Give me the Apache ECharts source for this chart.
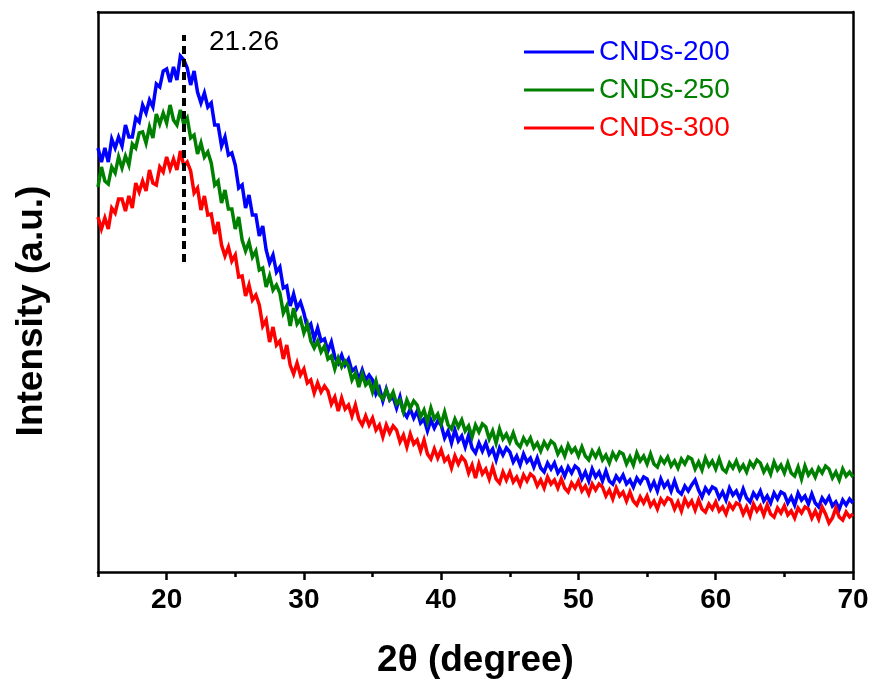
<!DOCTYPE html>
<html>
<head>
<meta charset="utf-8">
<script src="https://cdn.jsdelivr.net/npm/echarts@6/dist/echarts.min.js"></script>
<style>
html,body{margin:0;padding:0;background:#fff;}
#xrd{width:874px;height:683px;}
</style>
</head>
<body>
<div id="xrd"></div>
<script type="text/javascript">
// 2theta sampling: every 0.25 degree from 15 to 70
var thetaStart = 15, thetaStep = 0.25;

var seriesNames = ['CNDs-200', 'CNDs-250', 'CNDs-300'];
var seriesColors = ['#0000ff', '#008000', '#ff0000'];

// intensity (a.u.), one row = one degree (4 points)
var cnds200 = [
 424,410,424,410, 433,424,435,426, 447,435,435,454, 450,467,459,472, 465,488,485,501,
 503,490,505,492, 516,512,504,487, 501,480,469,479, 465,469,447,447, 426,435,417,419,
 407,384,387,364, 377,357,357,336, 346,322,309,317, 300,305,284,286, 266,278,264,270,
 259,244,248,233, 244,231,233,221, 230,215,209,217, 207,213,201,204, 192,202,192,197,
 192,178,184,171, 183,172,175,164, 175,160,155,163, 154,161,149,153, 141,152,144,151,
 147,134,141,129, 142,131,136,125, 137,124,119,129, 121,129,118,123, 112,124,117,124,
 120,110,116,107, 118,110,114,105, 114,104,100,109, 103,109,99,104, 96,105,99,106,
 103,93,100,91, 103,95,100,91, 101,91,88,96, 91,97,88,92, 85,94,89,95,
 93,83,90,81, 93,85,90,81, 91,81,78,86, 81,87,92,82, 75,84,79,85,
 83,74,80,72, 84,77,81,73, 83,74,70,79, 74,81,71,76, 69,79,73,80,
 78,69,75,67, 79,72,76,68, 78,69,65,74, 69,75,66,70, 63,72,67,73,
 69
];
var cnds250 = [
 385,405,391,388, 405,399,415,404, 416,407,428,424, 439,440,429,445, 434,458,448,459,
 449,467,452,447, 462,448,454,434, 437,418,429,415, 420,409,387,391, 369,382,363,363,
 343,355,332,321, 330,315,321,302, 304,285,296,282, 287,279,259,266, 246,264,248,253,
 239,248,231,224, 231,220,226,213, 216,203,214,205, 211,206,192,199, 185,198,187,191,
 180,191,177,173, 182,173,180,168, 172,160,172,164, 171,167,155,162, 150,164,153,158,
 148,160,147,143, 153,145,152,141, 146,135,147,140, 148,145,133,141, 129,143,133,138,
 130,139,129,125, 134,128,134,124, 129,121,130,124, 131,128,118,124, 116,127,120,124,
 116,125,116,112, 121,115,122,112, 117,109,119,113, 120,118,108,115, 107,119,111,116,
 108,118,108,105, 114,109,115,106, 111,104,113,108, 115,113,103,110, 102,114,106,111,
 103,113,103,100, 109,104,111,102, 107,100,110,105, 112,109,100,106, 98,110,102,107,
 99,109,99,96, 105,93,106,97, 102,95,104,99, 106,103,94,100, 92,103,96,100,
 95
];
var cnds300 = [
 355,343,354,343, 364,359,373,373, 361,376,364,389, 380,391,381,402, 389,387,405,400,
 415,403,413,402, 421,406,410,401, 379,384,362,376, 357,358,338,350, 327,316,325,311,
 317,295,296,276, 287,272,277,267, 246,252,230,245, 227,231,213,227, 207,198,209,197,
 203,189,192,179, 189,180,186,181, 168,175,161,174, 163,167,156,167, 153,147,156,147,
 154,142,147,135, 147,139,146,142, 130,137,125,138, 128,132,121,132, 118,113,123,114,
 122,111,115,104, 116,108,115,111, 99,107,94,108, 98,103,93,105, 93,89,100,92,
 100,90,95,87, 97,91,98,95, 86,92,84,95, 88,92,84,93, 84,80,89,84,
 91,81,86,78, 88,82,88,85, 76,82,73,84, 76,80,71,80, 71,67,75,69,
 76,66,71,63, 73,68,74,72, 63,70,61,73, 66,71,62,72, 63,60,68,63,
 70,61,65,58, 68,63,69,67, 58,65,56,68, 61,66,57,67, 58,55,64,59,
 66,57,61,54, 64,59,65,63, 54,61,53,65, 58,49,54,64, 55,52,60,55,
 58
];

var majorTicks = [20, 30, 40, 50, 60, 70];
var minorTicks = [15, 25, 35, 45, 55, 65];
var peakPos = 21.26;
var peakLine = [310, 537];   // extent of dashed marker (a.u.)
var peakLabelAt = 530;

function toPairs(vals){
	var out = [];
	for (var i = 0; i < vals.length; i++) {
		out.push([thetaStart + i * thetaStep, vals[i]]);
	}
	return out;
}

var myChart = echarts.init(document.getElementById('xrd'), null, {renderer: 'canvas'});
var frame = {show: true, lineStyle: {color: '#000', width: 2.5}};
var font = 'Liberation Sans, Arial, sans-serif';

var seriesData = [cnds200, cnds250, cnds300];
var series = [];
for (var k = 0; k < seriesData.length; k++) {
	series.push({
		name: seriesNames[k],
		type: 'line',
		showSymbol: false,
		symbol: 'none',
		data: toPairs(seriesData[k]),
		lineStyle: {color: seriesColors[k], width: 3.5, join: 'miter', miterLimit: 4},
		itemStyle: {color: seriesColors[k]},
		z: 2 + k
	});
}
// dashed peak marker + label
series[0].markLine = {
	silent: true,
	symbol: 'none',
	label: {show: false},
	lineStyle: {color: '#000', type: [8, 5], width: 4},
	data: [[{coord: [peakPos, peakLine[0]]}, {coord: [peakPos, peakLine[1]]}]]
};
series[0].markPoint = {
	silent: true,
	symbol: 'circle',
	symbolSize: 0,
	data: [{coord: [peakPos, peakLabelAt]}],
	label: {
		show: true, position: 'right', distance: 25,
		formatter: String(peakPos),
		color: '#000', fontSize: 28, fontFamily: font
	}
};

var option = {
	backgroundColor: '#fff',
	animation: false,
	grid: {left: 98, right: 21, top: 12, bottom: 111, outerBoundsMode: 'none', containLabel: false},
	legend: {
		orient: 'vertical',
		left: 519,
		top: 33,
		itemWidth: 70,
		itemHeight: 3,
		itemGap: 10,
		icon: 'rect',
		textStyle: {fontSize: 28, fontFamily: font},
		data: seriesNames.map(function(n, i){
			return {name: n, itemStyle: {color: seriesColors[i]}, textStyle: {color: seriesColors[i]}};
		})
	},
	xAxis: [
		{
			type: 'value', min: 15, max: 70, interval: 5,
			name: '2θ (degree)', nameLocation: 'middle', nameGap: 70,
			nameTextStyle: {fontSize: 37, fontWeight: 'bold', color: '#000', fontFamily: font},
			axisLine: frame,
			axisTick: {show: true, inside: false, length: 8, customValues: majorTicks, lineStyle: {color: '#000', width: 2.5}},
			axisLabel: {show: true, customValues: majorTicks, fontSize: 28, fontWeight: 'bold', color: '#000', fontFamily: font, margin: 14},
			splitLine: {show: false}
		},
		{
			type: 'value', min: 15, max: 70, interval: 5, position: 'bottom',
			axisLine: {show: false},
			axisTick: {show: true, inside: false, length: 5, customValues: minorTicks, lineStyle: {color: '#000', width: 2.5}},
			axisLabel: {show: false},
			splitLine: {show: false}
		},
		{
			type: 'value', min: 15, max: 70, position: 'top',
			axisLine: frame, axisTick: {show: false}, axisLabel: {show: false}, splitLine: {show: false}
		}
	],
	yAxis: [
		{
			type: 'value', min: 0, max: 560,
			name: 'Intensity (a.u.)', nameLocation: 'middle', nameGap: 48, nameRotate: 90,
			nameTextStyle: {fontSize: 37, fontWeight: 'bold', color: '#000', fontFamily: font, padding: [0, 38, 0, 0]},
			axisLine: frame, axisTick: {show: false}, axisLabel: {show: false}, splitLine: {show: false}
		},
		{
			type: 'value', min: 0, max: 560, position: 'right',
			axisLine: frame, axisTick: {show: false}, axisLabel: {show: false}, splitLine: {show: false}
		}
	],
	series: series
};
myChart.setOption(option);
</script>
</body>
</html>
